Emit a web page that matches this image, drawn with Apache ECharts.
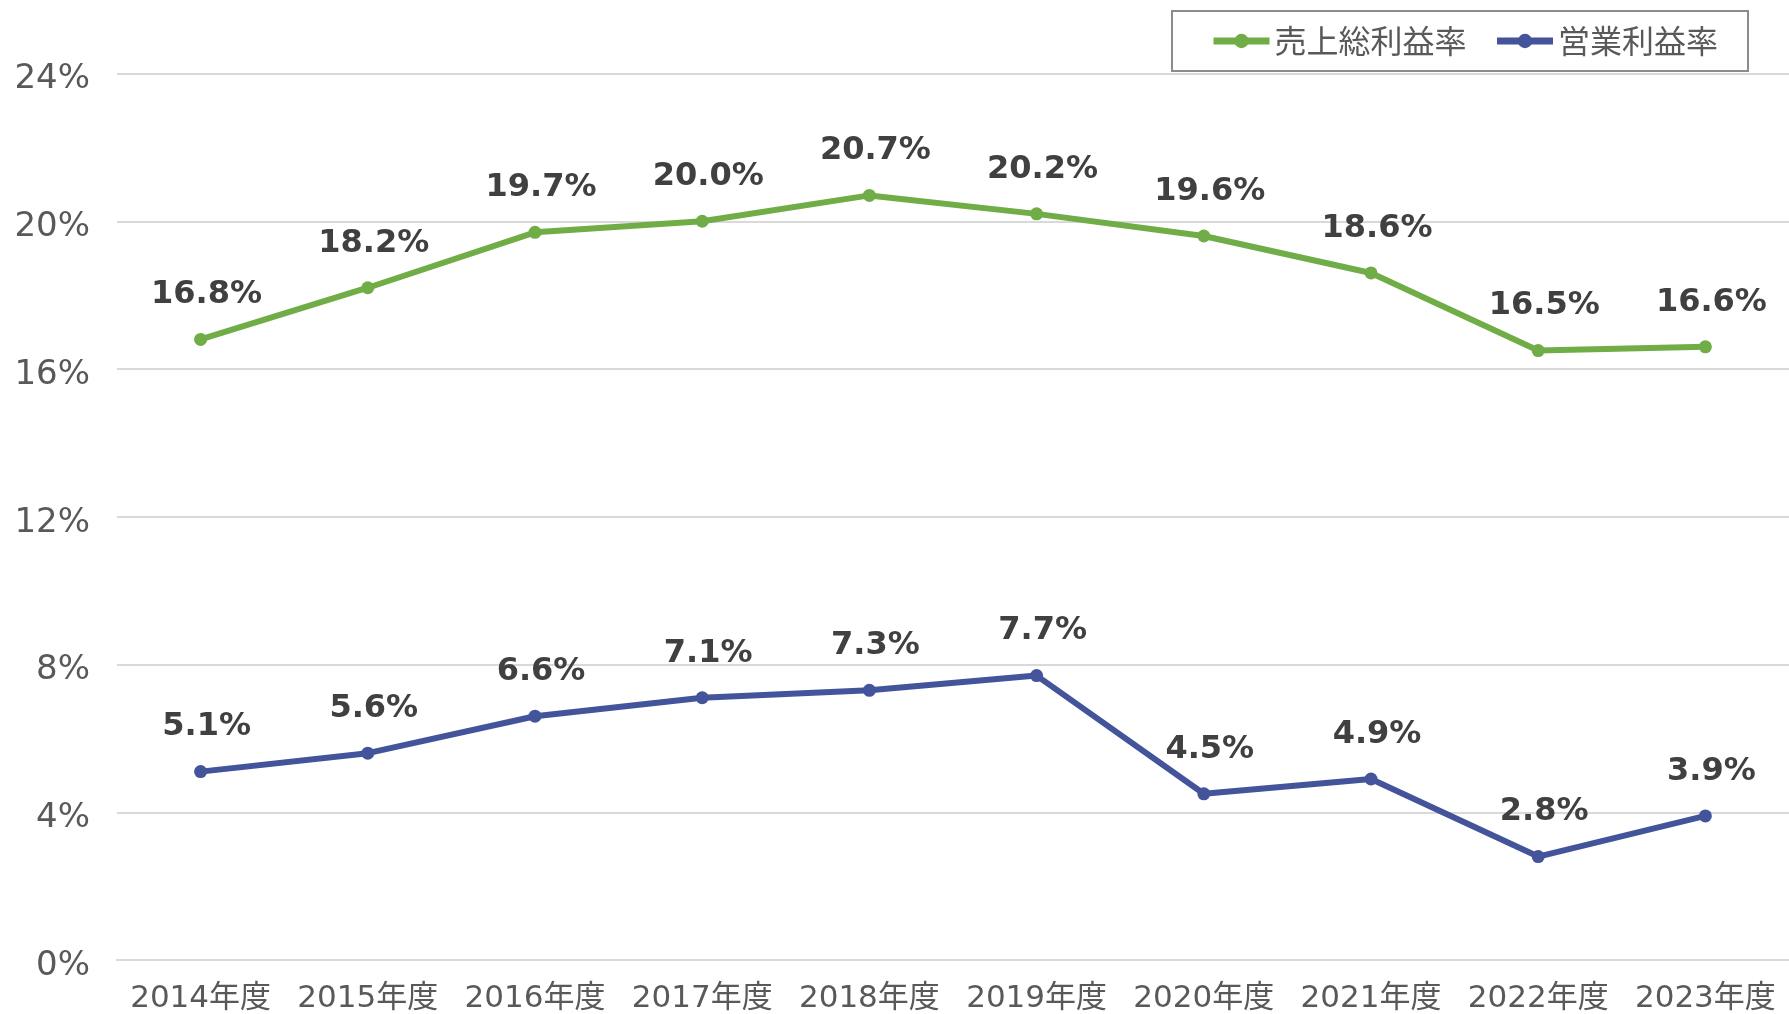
<!DOCTYPE html>
<html><head><meta charset="utf-8">
<script src="https://cdn.jsdelivr.net/npm/echarts@6/dist/echarts.min.js"></script>
<style>html,body{margin:0;padding:0;background:#fff}#c{width:1789px;height:1014px}</style>
</head><body><div id="c"></div>
<script>
const categories = ['2014年度','2015年度','2016年度','2017年度','2018年度','2019年度','2020年度','2021年度','2022年度','2023年度'];
const grossMargin = [16.8, 18.2, 19.7, 20.0, 20.7, 20.2, 19.6, 18.6, 16.5, 16.6];
const operatingMargin = [5.1, 5.6, 6.6, 7.1, 7.3, 7.7, 4.5, 4.9, 2.8, 3.9];
const seriesNames = ['売上総利益率', '営業利益率'];
const yTicks = {min: 0, max: 24, interval: 4};

const FONT = '"DejaVu Sans", "Noto Sans CJK JP", sans-serif';
const CJK = '"Noto Sans CJK JP", sans-serif';
const chart = echarts.init(document.getElementById('c'));
function lineSeries(name, data, color) {
  return {
    name, type: 'line', data,
    symbol: 'circle', symbolSize: 13,
    lineStyle: {width: 6, color},
    itemStyle: {color},
    label: {
      show: true, position: 'top', distance: 22, offset: [6, 0],
      formatter: p => p.value.toFixed(1) + '%',
      fontFamily: FONT, fontSize: 32, fontWeight: 'bold', color: '#404040'
    },
    z: 3
  };
}
chart.setOption({
  animation: false,
  backgroundColor: '#fff',
  textStyle: {fontFamily: FONT},
  grid: {left: 117, top: 73.5, width: 1677, bottom: 52, containLabel: false},
  legend: {
    data: seriesNames, left: 1172, top: 11,
    padding: [13, 30, 13, 38], itemGap: 27, itemWidth: 56, itemHeight: 18,
    lineStyle: {width: 7},
    borderColor: '#8c8c8c', borderWidth: 2,
    textStyle: {fontFamily: CJK, fontSize: 32, color: '#595959', lineHeight: 34}
  },
  xAxis: {
    type: 'category', data: categories, boundaryGap: true,
    axisLine: {show: true, lineStyle: {color: '#d9d9d9', width: 2}},
    axisTick: {show: false},
    axisLabel: {interval: 0, fontFamily: FONT, fontSize: 31, color: '#595959', margin: 23}
  },
  yAxis: {
    type: 'value', min: yTicks.min, max: yTicks.max, interval: yTicks.interval,
    axisLine: {show: false}, axisTick: {show: false},
    axisLabel: {formatter: '{value}%', fontFamily: FONT, fontSize: 34, color: '#595959', margin: 27,
      verticalAlign: 'top', lineHeight: 12},
    splitLine: {lineStyle: {color: '#d9d9d9', width: 2}}
  },
  series: [
    lineSeries(seriesNames[0], grossMargin, '#70AD47'),
    lineSeries(seriesNames[1], operatingMargin, '#43549A')
  ]
});
</script></body></html>
